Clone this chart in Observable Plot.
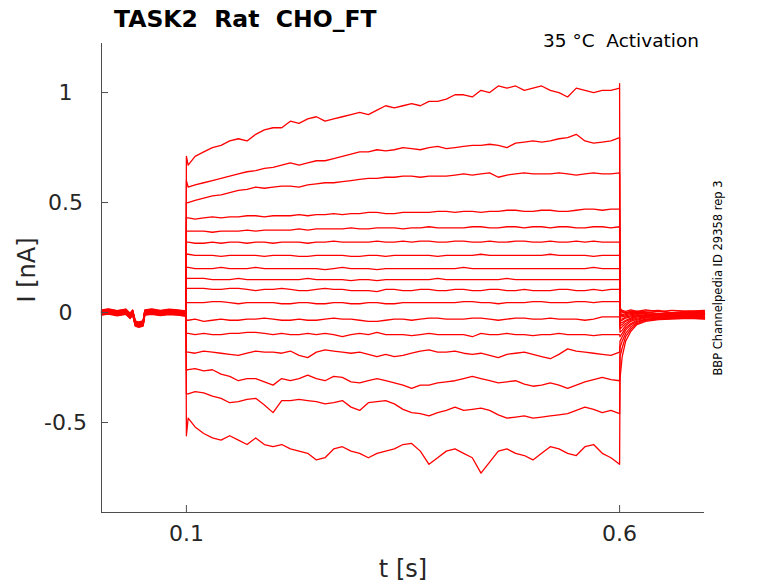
<!DOCTYPE html>
<html>
<head>
<meta charset="utf-8">
<script src="https://cdn.jsdelivr.net/npm/d3@7"></script>
<script src="https://cdn.jsdelivr.net/npm/@observablehq/plot@0.6"></script>
<style>
  html, body { margin: 0; padding: 0; background: #fff; }
  svg text { white-space: pre; }
</style>
</head>
<body>
<div id="chart"></div>
<script>
// ---- data ----
const titleText = "TASK2  Rat  CHO_FT";
const cornerText = "35 °C  Activation";
const sideText = "BBP Channelpedia ID 29358 rep 3";
const xLabel = "t [s]";
const yLabel = "I [nA]";
const xTicks = [0.1, 0.6];
const yTicks = [-0.5, 0, 0.5, 1];
const xDomain = [0.002, 0.698];
const yDomain = [-0.909, 1.223];

// pre-pulse baseline (s, nA)
const tPre = [0.002, 0.01, 0.02, 0.03, 0.035, 0.038, 0.041, 0.045, 0.05, 0.052, 0.06, 0.07, 0.08, 0.09, 0.0995];
const basePre = [0, 0.005, -0.003, 0.004, -0.015, 0.0, -0.05, -0.055, -0.05, 0.0, 0.004, -0.002, 0.003, 0.0, -0.005];
// holding level of each sweep before the step
const hold = [0.012, 0.008, 0.01, 0.004, 0.006, 0.0, 0.002, -0.004, 0.0, -0.006, -0.002, -0.008, 0.004, -0.01, 0.006, -0.012, -0.004];

// step pulse times (first point = capacitive spike)
const tPulse = [0.1, 0.102,
  0.11, 0.12, 0.13, 0.14, 0.15, 0.16, 0.17, 0.18, 0.19, 0.2,
  0.21, 0.22, 0.23, 0.24, 0.25, 0.26, 0.27, 0.28, 0.29, 0.3,
  0.31, 0.32, 0.33, 0.34, 0.35, 0.36, 0.37, 0.38, 0.39, 0.4,
  0.41, 0.42, 0.43, 0.44, 0.45, 0.46, 0.47, 0.48, 0.49, 0.5,
  0.51, 0.52, 0.53, 0.54, 0.55, 0.56, 0.57, 0.58, 0.59, 0.6];
const pulseI = [
  [0.71, 0.67, 0.71, 0.73, 0.75, 0.76, 0.78, 0.79, 0.78, 0.81, 0.83, 0.84, 0.84, 0.87, 0.86, 0.88, 0.89, 0.87, 0.88, 0.89, 0.90, 0.91, 0.90, 0.92, 0.94, 0.93, 0.94, 0.95, 0.94, 0.96, 0.96, 0.97, 0.99, 0.99, 0.98, 1.01, 1.00, 1.03, 1.02, 1.03, 1.01, 1.02, 1.03, 1.01, 1.00, 0.98, 1.02, 1.01, 1.00, 1.01, 1.01, 1.02],
  [0.6, 0.57, 0.58, 0.59, 0.60, 0.61, 0.62, 0.63, 0.64, 0.645, 0.655, 0.66, 0.67, 0.68, 0.67, 0.68, 0.69, 0.69, 0.70, 0.71, 0.72, 0.73, 0.73, 0.74, 0.735, 0.74, 0.75, 0.745, 0.74, 0.75, 0.755, 0.745, 0.75, 0.755, 0.76, 0.76, 0.765, 0.76, 0.75, 0.77, 0.775, 0.78, 0.775, 0.78, 0.79, 0.795, 0.81, 0.78, 0.77, 0.775, 0.78, 0.795],
  [0.5, 0.5, 0.51, 0.52, 0.53, 0.535, 0.545, 0.555, 0.56, 0.57, 0.565, 0.57, 0.575, 0.575, 0.57, 0.58, 0.585, 0.59, 0.59, 0.595, 0.6, 0.605, 0.61, 0.61, 0.615, 0.615, 0.62, 0.62, 0.615, 0.62, 0.62, 0.62, 0.625, 0.63, 0.625, 0.63, 0.635, 0.615, 0.625, 0.63, 0.635, 0.63, 0.63, 0.63, 0.635, 0.63, 0.625, 0.63, 0.635, 0.63, 0.63, 0.635],
  [0.43, 0.43, 0.425, 0.43, 0.435, 0.43, 0.435, 0.435, 0.44, 0.44, 0.435, 0.44, 0.44, 0.44, 0.445, 0.44, 0.445, 0.445, 0.45, 0.445, 0.45, 0.45, 0.455, 0.455, 0.45, 0.45, 0.455, 0.455, 0.455, 0.455, 0.46, 0.46, 0.455, 0.46, 0.46, 0.455, 0.46, 0.46, 0.465, 0.465, 0.46, 0.46, 0.465, 0.465, 0.46, 0.46, 0.465, 0.47, 0.47, 0.465, 0.47, 0.47],
  [0.37, 0.37, 0.37, 0.37, 0.365, 0.37, 0.37, 0.37, 0.375, 0.37, 0.375, 0.375, 0.375, 0.375, 0.38, 0.375, 0.38, 0.38, 0.38, 0.38, 0.385, 0.38, 0.38, 0.385, 0.385, 0.385, 0.38, 0.385, 0.385, 0.39, 0.385, 0.385, 0.385, 0.385, 0.39, 0.39, 0.385, 0.385, 0.39, 0.39, 0.385, 0.39, 0.39, 0.385, 0.39, 0.39, 0.385, 0.385, 0.39, 0.39, 0.385, 0.39],
  [0.32, 0.32, 0.315, 0.315, 0.32, 0.315, 0.32, 0.32, 0.315, 0.32, 0.32, 0.315, 0.32, 0.32, 0.32, 0.315, 0.32, 0.32, 0.325, 0.32, 0.32, 0.32, 0.32, 0.325, 0.32, 0.32, 0.325, 0.32, 0.325, 0.325, 0.32, 0.32, 0.325, 0.325, 0.32, 0.32, 0.325, 0.32, 0.32, 0.325, 0.325, 0.32, 0.32, 0.325, 0.32, 0.32, 0.325, 0.32, 0.325, 0.32, 0.32, 0.32],
  [0.265, 0.265, 0.26, 0.26, 0.26, 0.255, 0.26, 0.26, 0.26, 0.26, 0.255, 0.26, 0.26, 0.26, 0.255, 0.255, 0.26, 0.26, 0.26, 0.26, 0.255, 0.255, 0.26, 0.26, 0.255, 0.26, 0.26, 0.26, 0.26, 0.26, 0.255, 0.26, 0.26, 0.26, 0.26, 0.265, 0.26, 0.26, 0.26, 0.26, 0.26, 0.26, 0.26, 0.265, 0.26, 0.26, 0.26, 0.26, 0.255, 0.26, 0.26, 0.26],
  [0.205, 0.205, 0.2, 0.2, 0.2, 0.205, 0.2, 0.2, 0.2, 0.205, 0.2, 0.2, 0.2, 0.2, 0.2, 0.2, 0.2, 0.195, 0.2, 0.205, 0.2, 0.2, 0.2, 0.195, 0.2, 0.2, 0.2, 0.2, 0.2, 0.2, 0.2, 0.2, 0.2, 0.205, 0.2, 0.2, 0.2, 0.2, 0.2, 0.2, 0.2, 0.2, 0.2, 0.2, 0.2, 0.2, 0.2, 0.2, 0.205, 0.2, 0.2, 0.2],
  [0.155, 0.155, 0.155, 0.155, 0.15, 0.15, 0.15, 0.155, 0.15, 0.15, 0.15, 0.15, 0.15, 0.15, 0.15, 0.155, 0.15, 0.15, 0.15, 0.15, 0.145, 0.15, 0.15, 0.145, 0.15, 0.15, 0.15, 0.15, 0.15, 0.15, 0.155, 0.15, 0.15, 0.15, 0.15, 0.15, 0.15, 0.15, 0.155, 0.15, 0.15, 0.15, 0.15, 0.15, 0.15, 0.15, 0.15, 0.15, 0.15, 0.15, 0.15, 0.15],
  [0.11, 0.11, 0.11, 0.11, 0.105, 0.105, 0.11, 0.11, 0.105, 0.1, 0.105, 0.105, 0.11, 0.105, 0.1, 0.1, 0.105, 0.11, 0.105, 0.105, 0.1, 0.1, 0.1, 0.095, 0.105, 0.105, 0.1, 0.1, 0.105, 0.105, 0.1, 0.1, 0.105, 0.105, 0.1, 0.1, 0.105, 0.105, 0.1, 0.1, 0.105, 0.1, 0.1, 0.1, 0.105, 0.105, 0.1, 0.1, 0.105, 0.1, 0.105, 0.105],
  [0.045, 0.045, 0.045, 0.045, 0.05, 0.05, 0.045, 0.04, 0.045, 0.045, 0.045, 0.045, 0.04, 0.04, 0.045, 0.045, 0.04, 0.04, 0.045, 0.045, 0.04, 0.04, 0.045, 0.045, 0.04, 0.04, 0.045, 0.045, 0.045, 0.045, 0.045, 0.045, 0.045, 0.05, 0.05, 0.045, 0.045, 0.04, 0.045, 0.045, 0.045, 0.05, 0.05, 0.045, 0.045, 0.045, 0.05, 0.05, 0.045, 0.05, 0.05, 0.05],
  [-0.035, -0.035, -0.03, -0.04, -0.035, -0.03, -0.035, -0.035, -0.03, -0.03, -0.025, -0.03, -0.035, -0.035, -0.03, -0.035, -0.035, -0.03, -0.025, -0.03, -0.03, -0.035, -0.04, -0.04, -0.035, -0.03, -0.03, -0.035, -0.03, -0.025, -0.025, -0.03, -0.03, -0.03, -0.025, -0.025, -0.03, -0.035, -0.03, -0.025, -0.025, -0.03, -0.03, -0.025, -0.03, -0.03, -0.03, -0.035, -0.03, -0.02, -0.02, -0.02],
  [-0.095, -0.095, -0.1, -0.095, -0.1, -0.1, -0.095, -0.095, -0.09, -0.09, -0.095, -0.1, -0.095, -0.1, -0.1, -0.095, -0.1, -0.095, -0.1, -0.11, -0.1, -0.095, -0.1, -0.09, -0.1, -0.1, -0.1, -0.105, -0.1, -0.095, -0.1, -0.1, -0.1, -0.1, -0.11, -0.095, -0.1, -0.1, -0.095, -0.1, -0.1, -0.105, -0.1, -0.1, -0.095, -0.1, -0.1, -0.1, -0.105, -0.1, -0.1, -0.1],
  [-0.18, -0.18, -0.185, -0.175, -0.18, -0.185, -0.19, -0.195, -0.185, -0.175, -0.18, -0.18, -0.185, -0.175, -0.195, -0.205, -0.18, -0.17, -0.175, -0.18, -0.185, -0.18, -0.19, -0.2, -0.19, -0.2, -0.195, -0.185, -0.175, -0.17, -0.18, -0.18, -0.175, -0.185, -0.19, -0.185, -0.195, -0.205, -0.19, -0.185, -0.18, -0.19, -0.2, -0.21, -0.19, -0.165, -0.175, -0.18, -0.185, -0.19, -0.195, -0.18],
  [-0.26, -0.26, -0.255, -0.265, -0.26, -0.28, -0.29, -0.31, -0.3, -0.3, -0.315, -0.33, -0.3, -0.31, -0.3, -0.285, -0.3, -0.31, -0.29, -0.295, -0.315, -0.32, -0.31, -0.3, -0.31, -0.32, -0.33, -0.345, -0.33, -0.33, -0.32, -0.315, -0.31, -0.3, -0.29, -0.3, -0.31, -0.32, -0.315, -0.31, -0.325, -0.335, -0.33, -0.32, -0.33, -0.345, -0.33, -0.315, -0.305, -0.295, -0.305, -0.31],
  [-0.37, -0.37, -0.36, -0.365, -0.38, -0.39, -0.41, -0.405, -0.395, -0.39, -0.42, -0.455, -0.4, -0.4, -0.395, -0.4, -0.405, -0.415, -0.41, -0.4, -0.43, -0.445, -0.41, -0.405, -0.4, -0.415, -0.44, -0.455, -0.46, -0.47, -0.455, -0.445, -0.43, -0.445, -0.44, -0.435, -0.445, -0.465, -0.48, -0.475, -0.47, -0.48, -0.475, -0.47, -0.465, -0.46, -0.445, -0.43, -0.44, -0.455, -0.445, -0.46],
  [-0.56, -0.48, -0.52, -0.55, -0.57, -0.58, -0.56, -0.58, -0.6, -0.57, -0.6, -0.61, -0.6, -0.62, -0.63, -0.64, -0.67, -0.66, -0.62, -0.61, -0.63, -0.64, -0.66, -0.64, -0.63, -0.62, -0.6, -0.595, -0.63, -0.69, -0.66, -0.63, -0.62, -0.64, -0.66, -0.73, -0.68, -0.63, -0.62, -0.64, -0.65, -0.67, -0.64, -0.61, -0.62, -0.64, -0.65, -0.61, -0.6, -0.64, -0.66, -0.69]
];

// tail currents after the step (first point = offset transient)
const tTail = [0.6, 0.6005, 0.603, 0.607, 0.613, 0.62, 0.63, 0.645, 0.66, 0.68, 0.698];
const tailI = [
  [1.04, 0.02, 0.01, 0.005, 0.012, 0.005, 0.012, 0.004, 0.01, 0.006, 0.01],
  [0.795, 0.015, 0.005, 0.0, 0.006, 0.0, 0.006, 0.01, 0.0, 0.006, 0.004],
  [0.635, 0.01, 0.0, 0.0, 0.0, 0.006, 0.0, 0.005, -0.002, 0.005, 0.0],
  [0.47, 0.0, -0.01, -0.005, 0.0, 0.0, 0.002, -0.005, 0.0, 0.0, 0.002],
  [0.39, -0.01, -0.015, -0.01, -0.005, -0.005, 0.0, -0.006, 0.0, -0.005, -0.004],
  [0.32, -0.02, -0.02, -0.015, -0.01, -0.005, -0.005, -0.01, -0.005, 0.0, -0.006],
  [0.26, -0.03, -0.03, -0.02, -0.015, -0.01, -0.012, -0.005, -0.01, -0.005, -0.01],
  [0.2, -0.04, -0.035, -0.025, -0.02, -0.015, -0.01, -0.012, -0.005, -0.01, -0.006],
  [0.15, -0.05, -0.045, -0.035, -0.025, -0.015, -0.016, -0.01, -0.012, -0.015, -0.01],
  [0.105, -0.06, -0.055, -0.04, -0.03, -0.02, -0.015, -0.016, -0.01, -0.012, -0.012],
  [0.05, -0.075, -0.065, -0.05, -0.035, -0.025, -0.02, -0.015, -0.018, -0.01, -0.016],
  [-0.02, -0.09, -0.08, -0.06, -0.04, -0.03, -0.022, -0.02, -0.015, -0.022, -0.016],
  [-0.1, -0.11, -0.095, -0.07, -0.05, -0.035, -0.025, -0.022, -0.02, -0.016, -0.022],
  [-0.18, -0.13, -0.11, -0.08, -0.055, -0.04, -0.03, -0.025, -0.022, -0.02, -0.024],
  [-0.31, -0.16, -0.13, -0.095, -0.065, -0.045, -0.032, -0.026, -0.025, -0.022, -0.026],
  [-0.46, -0.2, -0.16, -0.11, -0.075, -0.05, -0.035, -0.03, -0.026, -0.025, -0.028],
  [-0.69, -0.3, -0.2, -0.13, -0.085, -0.055, -0.04, -0.032, -0.03, -0.026, -0.03]
];

// ---- build sweep table ----
const rows = [];
pulseI.forEach((vals, k) => {
  tPre.forEach((t, i) => rows.push({t, I: basePre[i] + hold[k], sweep: k}));
  tPulse.forEach((t, i) => rows.push({t, I: vals[i], sweep: k}));
  tTail.forEach((t, i) => rows.push({t, I: tailI[k][i], sweep: k}));
});

const axisColor = "#4d4d4d";
const textColor = "#262626";
const font = "DejaVu Sans";

const chart = Plot.plot({
  width: 778,
  height: 583,
  marginTop: 43,
  marginLeft: 101,
  marginRight: 74,
  marginBottom: 71,
  style: {fontFamily: font, background: "#fff", overflow: "visible"},
  x: {domain: xDomain, label: null},
  y: {domain: yDomain, label: null},
  marks: [
    Plot.line(rows, {x: "t", y: "I", z: "sweep", stroke: "#ff0000", strokeWidth: 1.3}),
    Plot.ruleX([xDomain[0]], {stroke: axisColor, strokeWidth: 1}),
    Plot.ruleY([yDomain[0]], {stroke: axisColor, strokeWidth: 1}),
    Plot.axisY(yTicks, {tickSize: 7, dx: 7, tickFormat: () => "", stroke: axisColor}),
    Plot.axisY(yTicks, {tickSize: 0, tickPadding: 36, textAnchor: "middle", tickFormat: d => String(d), fontSize: 22, fill: textColor}),
    Plot.axisX(xTicks, {tickSize: 7, dy: -7, tickFormat: () => "", stroke: axisColor}),
    Plot.axisX(xTicks, {tickSize: 0, tickPadding: 13, tickFormat: d => String(d), fontSize: 22, fill: textColor})
  ]
});

const svg = d3.select(chart);
svg.append("text")
  .attr("x", 114).attr("y", 26.5)
  .attr("text-anchor", "start")
  .attr("font-family", font).attr("font-weight", "bold").attr("font-size", 23.5)
  .attr("fill", "#000")
  .text(titleText);
svg.append("text")
  .attr("x", 543).attr("y", 47)
  .attr("text-anchor", "start")
  .attr("font-family", font).attr("font-size", 18.5)
  .attr("fill", "#000")
  .text(cornerText);
svg.append("text")
  .attr("transform", "translate(35,270) rotate(-90)")
  .attr("text-anchor", "middle")
  .attr("font-family", font).attr("font-size", 24)
  .attr("fill", textColor)
  .text(yLabel);
svg.append("text")
  .attr("x", 403).attr("y", 577)
  .attr("text-anchor", "middle")
  .attr("font-family", font).attr("font-size", 24)
  .attr("fill", textColor)
  .text(xLabel);
svg.append("text")
  .attr("transform", "translate(721.5,278) rotate(-90)")
  .attr("text-anchor", "middle")
  .attr("font-family", font).attr("font-size", 11.5)
  .attr("fill", "#000")
  .text(sideText);

document.getElementById("chart").appendChild(chart);
</script>
</body>
</html>
